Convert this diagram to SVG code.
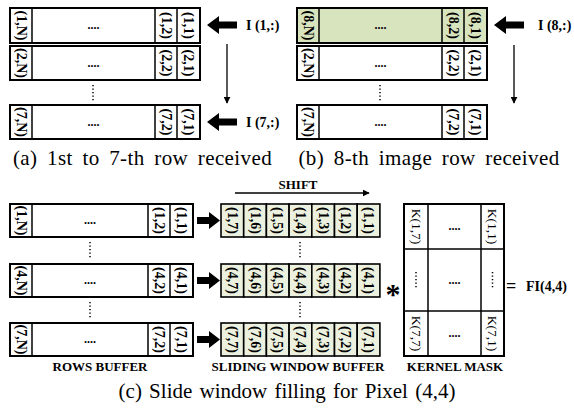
<svg xmlns="http://www.w3.org/2000/svg" width="574" height="409" viewBox="0 0 574 409">
<style>
.box{fill:#fff;stroke:#000;stroke-width:2}
.g1{fill:#d7e4bd;stroke:#000;stroke-width:2}
.g2{fill:#ebf1de;stroke:#000;stroke-width:1.6}
.div{stroke:#000;stroke-width:1.5}
.rt{font-family:"Liberation Serif",serif;font-weight:bold;font-size:14px;text-anchor:middle;dominant-baseline:central}
.kt{font-family:"Liberation Serif",serif;font-size:13.5px;text-anchor:middle;dominant-baseline:central}
.dt{font-family:"Liberation Serif",serif;font-weight:bold;font-size:12px;text-anchor:middle}
.lb{font-family:"Liberation Serif",serif;font-weight:bold;font-size:13px;text-anchor:middle}
.il{font-family:"Liberation Serif",serif;font-weight:bold;font-size:14px}
.cap{font-family:"Liberation Serif",serif;font-size:21px;text-anchor:middle;letter-spacing:0.4px;word-spacing:4px}
.vd{stroke:#000;stroke-width:1.5;stroke-dasharray:1.2,2.3;fill:none}
.ln{stroke:#000;stroke-width:1.3;fill:none}
</style>
<defs>
<marker id="ah" viewBox="0 0 10 10" refX="9" refY="5" markerWidth="7" markerHeight="7" orient="auto" markerUnits="userSpaceOnUse"><path d="M0,0 L10,5 L0,10 Z" fill="#000"/></marker>
</defs>

<!-- Panel (a) -->
<g id="a-row1">
<rect class="box" x="10" y="8" width="190" height="35"/>
<line class="div" x1="32" y1="8" x2="32" y2="43"/><line class="div" x1="155" y1="8" x2="155" y2="43"/><line class="div" x1="177" y1="8" x2="177" y2="43"/>
<text class="rt" transform="translate(21,25.5) rotate(90)">(1,N)</text>
<text class="dt" x="93.5" y="29">....</text>
<text class="rt" transform="translate(166,25.5) rotate(90)">(1,2)</text>
<text class="rt" transform="translate(188.5,25.5) rotate(90)">(1,1)</text>
</g>
<g id="a-row2">
<rect class="box" x="10" y="46" width="190" height="34"/>
<line class="div" x1="32" y1="46" x2="32" y2="80"/><line class="div" x1="155" y1="46" x2="155" y2="80"/><line class="div" x1="177" y1="46" x2="177" y2="80"/>
<text class="rt" transform="translate(21,63) rotate(90)">(2,N)</text>
<text class="dt" x="93.5" y="66.5">....</text>
<text class="rt" transform="translate(166,63) rotate(90)">(2,2)</text>
<text class="rt" transform="translate(188.5,63) rotate(90)">(2,1)</text>
</g>
<g id="a-row7">
<rect class="box" x="10" y="105" width="190" height="34"/>
<line class="div" x1="32" y1="105" x2="32" y2="139"/><line class="div" x1="155" y1="105" x2="155" y2="139"/><line class="div" x1="177" y1="105" x2="177" y2="139"/>
<text class="rt" transform="translate(21,122) rotate(90)">(7,N)</text>
<text class="dt" x="93.5" y="125.5">....</text>
<text class="rt" transform="translate(166,122) rotate(90)">(7,2)</text>
<text class="rt" transform="translate(188.5,122) rotate(90)">(7,1)</text>
</g>
<g id="a-in1"><text class="il" x="246" y="30">I (1,:)</text></g>
<g id="a-in7"><text class="il" x="246" y="127">I (7,:)</text></g>

<!-- Panel (b) -->
<g id="b-row8">
<rect class="g1" x="297" y="8" width="190" height="35"/>
<line class="div" x1="319" y1="8" x2="319" y2="43"/><line class="div" x1="442" y1="8" x2="442" y2="43"/><line class="div" x1="464" y1="8" x2="464" y2="43"/>
<text class="rt" transform="translate(308,25.5) rotate(90)">(8,N)</text>
<text class="dt" x="380.5" y="29">....</text>
<text class="rt" transform="translate(453,25.5) rotate(90)">(8,2)</text>
<text class="rt" transform="translate(475.5,25.5) rotate(90)">(8,1)</text>
</g>
<g id="b-row2">
<rect class="box" x="297" y="46" width="190" height="34"/>
<line class="div" x1="319" y1="46" x2="319" y2="80"/><line class="div" x1="442" y1="46" x2="442" y2="80"/><line class="div" x1="464" y1="46" x2="464" y2="80"/>
<text class="rt" transform="translate(308,63) rotate(90)">(2,N)</text>
<text class="dt" x="380.5" y="66.5">....</text>
<text class="rt" transform="translate(453,63) rotate(90)">(2,2)</text>
<text class="rt" transform="translate(475.5,63) rotate(90)">(2,1)</text>
</g>
<g id="b-row7">
<rect class="box" x="297" y="105" width="190" height="34"/>
<line class="div" x1="319" y1="105" x2="319" y2="139"/><line class="div" x1="442" y1="105" x2="442" y2="139"/><line class="div" x1="464" y1="105" x2="464" y2="139"/>
<text class="rt" transform="translate(308,122) rotate(90)">(7,N)</text>
<text class="dt" x="380.5" y="125.5">....</text>
<text class="rt" transform="translate(453,122) rotate(90)">(7,2)</text>
<text class="rt" transform="translate(475.5,122) rotate(90)">(7,1)</text>
</g>
<g id="b-in8"><text class="il" x="538" y="30">I (8,:)</text></g>

<g id="captions">
<text class="cap" x="142.5" y="165">(a) 1st to 7-th row received</text>
<text class="cap" x="429" y="165">(b) 8-th image row received</text>
<text class="cap" x="287" y="398" style="letter-spacing:0;word-spacing:2px">(c) Slide window filling for Pixel (4,4)</text>
</g>

<!-- Panel (c) rows buffer -->
<g id="c-rb1">
<rect class="box" x="10" y="204" width="183" height="33"/>
<line class="div" x1="32" y1="204" x2="32" y2="237"/><line class="div" x1="148" y1="204" x2="148" y2="237"/><line class="div" x1="170" y1="204" x2="170" y2="237"/>
<text class="rt" transform="translate(21,220.5) rotate(90)">(1,N)</text>
<text class="dt" x="90" y="224">....</text>
<text class="rt" transform="translate(159,220.5) rotate(90)">(1,2)</text>
<text class="rt" transform="translate(181.5,220.5) rotate(90)">(1,1)</text>
</g>
<g id="c-rb4">
<rect class="box" x="10" y="264" width="183" height="33"/>
<line class="div" x1="32" y1="264" x2="32" y2="297"/><line class="div" x1="148" y1="264" x2="148" y2="297"/><line class="div" x1="170" y1="264" x2="170" y2="297"/>
<text class="rt" transform="translate(21,280.5) rotate(90)">(4,N)</text>
<text class="dt" x="90" y="284">....</text>
<text class="rt" transform="translate(159,280.5) rotate(90)">(4,2)</text>
<text class="rt" transform="translate(181.5,280.5) rotate(90)">(4,1)</text>
</g>
<g id="c-rb7">
<rect class="box" x="10" y="323" width="183" height="33"/>
<line class="div" x1="32" y1="323" x2="32" y2="356"/><line class="div" x1="148" y1="323" x2="148" y2="356"/><line class="div" x1="170" y1="323" x2="170" y2="356"/>
<text class="rt" transform="translate(21,339.5) rotate(90)">(7,N)</text>
<text class="dt" x="90" y="343">....</text>
<text class="rt" transform="translate(159,339.5) rotate(90)">(7,2)</text>
<text class="rt" transform="translate(181.5,339.5) rotate(90)">(7,1)</text>
</g>

<!-- Sliding window -->
<g id="c-sw1">
<rect class="g2" x="221" y="204" width="22.7" height="33"/><rect class="g2" x="243.7" y="204" width="22.7" height="33"/><rect class="g2" x="266.4" y="204" width="22.7" height="33"/><rect class="g2" x="289.1" y="204" width="22.7" height="33"/><rect class="g2" x="311.8" y="204" width="22.7" height="33"/><rect class="g2" x="334.5" y="204" width="22.7" height="33"/><rect class="g2" x="357.2" y="204" width="22.7" height="33"/>
<text class="rt" transform="translate(232.35,220.5) rotate(90)">(1,7)</text>
<text class="rt" transform="translate(255.05,220.5) rotate(90)">(1,6)</text>
<text class="rt" transform="translate(277.75,220.5) rotate(90)">(1,5)</text>
<text class="rt" transform="translate(300.45,220.5) rotate(90)">(1,4)</text>
<text class="rt" transform="translate(323.15,220.5) rotate(90)">(1,3)</text>
<text class="rt" transform="translate(345.85,220.5) rotate(90)">(1,2)</text>
<text class="rt" transform="translate(368.55,220.5) rotate(90)">(1,1)</text>
</g>
<g id="c-sw4">
<rect class="g2" x="221" y="264" width="22.7" height="33"/><rect class="g2" x="243.7" y="264" width="22.7" height="33"/><rect class="g2" x="266.4" y="264" width="22.7" height="33"/><rect class="g2" x="289.1" y="264" width="22.7" height="33"/><rect class="g2" x="311.8" y="264" width="22.7" height="33"/><rect class="g2" x="334.5" y="264" width="22.7" height="33"/><rect class="g2" x="357.2" y="264" width="22.7" height="33"/>
<text class="rt" transform="translate(232.35,280.5) rotate(90)">(4,7)</text>
<text class="rt" transform="translate(255.05,280.5) rotate(90)">(4,6)</text>
<text class="rt" transform="translate(277.75,280.5) rotate(90)">(4,5)</text>
<text class="rt" transform="translate(300.45,280.5) rotate(90)">(4,4)</text>
<text class="rt" transform="translate(323.15,280.5) rotate(90)">(4,3)</text>
<text class="rt" transform="translate(345.85,280.5) rotate(90)">(4,2)</text>
<text class="rt" transform="translate(368.55,280.5) rotate(90)">(4,1)</text>
</g>
<g id="c-sw7">
<rect class="g2" x="221" y="323" width="22.7" height="33"/><rect class="g2" x="243.7" y="323" width="22.7" height="33"/><rect class="g2" x="266.4" y="323" width="22.7" height="33"/><rect class="g2" x="289.1" y="323" width="22.7" height="33"/><rect class="g2" x="311.8" y="323" width="22.7" height="33"/><rect class="g2" x="334.5" y="323" width="22.7" height="33"/><rect class="g2" x="357.2" y="323" width="22.7" height="33"/>
<text class="rt" transform="translate(232.35,339.5) rotate(90)">(7,7)</text>
<text class="rt" transform="translate(255.05,339.5) rotate(90)">(7,6)</text>
<text class="rt" transform="translate(277.75,339.5) rotate(90)">(7,5)</text>
<text class="rt" transform="translate(300.45,339.5) rotate(90)">(7,4)</text>
<text class="rt" transform="translate(323.15,339.5) rotate(90)">(7,3)</text>
<text class="rt" transform="translate(345.85,339.5) rotate(90)">(7,2)</text>
<text class="rt" transform="translate(368.55,339.5) rotate(90)">(7,1)</text>
</g>

<!-- Kernel mask -->
<g id="c-kernel">
<rect class="box" x="404" y="204" width="100" height="152"/>
<line class="div" x1="428" y1="204" x2="428" y2="356"/><line class="div" x1="481" y1="204" x2="481" y2="356"/>
<line class="div" x1="404" y1="249" x2="504" y2="249"/><line class="div" x1="404" y1="311" x2="504" y2="311"/>
<text class="kt" transform="translate(416,226.5) rotate(90)">K(1,7)</text>
<text class="dt" x="454.5" y="230">....</text>
<text class="kt" transform="translate(492.5,226.5) rotate(90)">K(1,1)</text>
<line class="vd" x1="416" y1="272" x2="416" y2="289"/>
<text class="dt" x="454.5" y="284">....</text>
<line class="vd" x1="492.5" y1="272" x2="492.5" y2="289"/>
<text class="kt" transform="translate(416,333.5) rotate(90)">K(7,7)</text>
<text class="dt" x="454.5" y="337">....</text>
<text class="kt" transform="translate(492.5,333.5) rotate(90)">K(7,1)</text>
</g>

<g id="c-ops">
<text x="393" y="304" font-family="'Liberation Serif',serif" font-weight="bold" font-size="30" text-anchor="middle">*</text>
<text x="506" y="292" font-family="'Liberation Serif',serif" font-weight="bold" font-size="18">=</text>
<text class="il" x="526" y="291">FI(4,4)</text>
</g>

<g id="c-labels">
<text class="lb" x="100" y="371">ROWS BUFFER</text>
<text class="lb" x="298" y="371">SLIDING WINDOW BUFFER</text>
<text class="lb" x="455" y="371">KERNEL MASK</text>
<text class="lb" x="298" y="189">SHIFT</text>
</g>

<g id="connectors">
<path d="M207,25 L219,16 L219,21.5 L237,21.5 L237,28.5 L219,28.5 L219,34 Z" fill="#000"/>
<path d="M207,122 L219,113 L219,118.5 L237,118.5 L237,125.5 L219,125.5 L219,131 Z" fill="#000"/>
<path d="M494,25 L506,16 L506,21.5 L524,21.5 L524,28.5 L506,28.5 L506,34 Z" fill="#000"/>
<line class="ln" x1="227" y1="44" x2="227" y2="103" marker-end="url(#ah)"/>
<line class="ln" x1="514" y1="45" x2="514" y2="103" marker-end="url(#ah)"/>
<line class="vd" x1="93" y1="85" x2="93" y2="101"/>
<line class="vd" x1="380" y1="85" x2="380" y2="101"/>
<line class="vd" x1="90" y1="242" x2="90" y2="259"/>
<line class="vd" x1="90" y1="302" x2="90" y2="319"/>
<line class="vd" x1="300" y1="242" x2="300" y2="259"/>
<line class="vd" x1="300" y1="302" x2="300" y2="319"/>
<path d="M220,220.5 L209,212 L209,217 L197,217 L197,224 L209,224 L209,229 Z" fill="#000"/>
<path d="M220,280.5 L209,272 L209,277 L197,277 L197,284 L209,284 L209,289 Z" fill="#000"/>
<path d="M220,339.5 L209,331 L209,336 L197,336 L197,343 L209,343 L209,348 Z" fill="#000"/>
<line class="ln" x1="235" y1="193" x2="369" y2="193" marker-end="url(#ah)"/>
</g>
</svg>
